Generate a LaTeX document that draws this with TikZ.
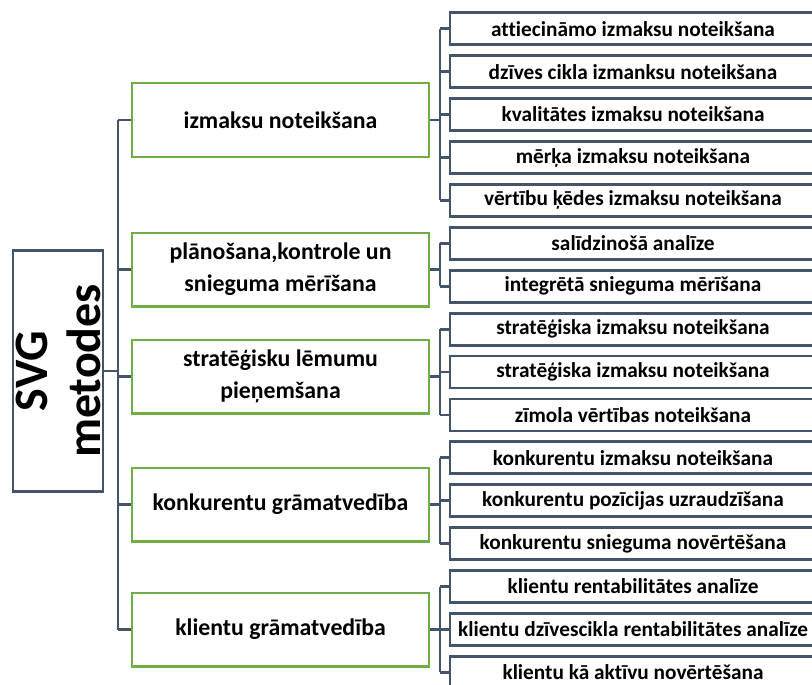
\documentclass[tikz,border=0pt]{standalone}
\usepackage{fontspec}
\setmainfont{Carlito}[Ligatures={NoCommon}]
\definecolor{slate}{HTML}{44546A}
\definecolor{leafgreen}{HTML}{70AD47}
\begin{document}
\begin{tikzpicture}[x=1pt,y=-1pt,
  conn/.style={draw=slate,line width=2.8pt},
  rootbox/.style={draw=slate,line width=2.8pt,fill=white,rotate=90,
    minimum width=241pt,minimum height=90pt,align=center,inner sep=0pt,
    font=\fontsize{48}{53}\selectfont\bfseries},
  midbox/.style={draw=leafgreen,line width=2.5pt,fill=white,
    minimum width=297pt,minimum height=73.5pt,align=center,inner sep=0pt,
    font=\fontsize{23.8}{31.7}\selectfont\bfseries},
  leafbox/.style={draw=slate,line width=2.8pt,fill=white,
    minimum width=366pt,minimum height=32pt,inner sep=0pt,
    font=\fontsize{21.3}{25}\selectfont\bfseries}]
\path[use as bounding box,clip] (0,0) rectangle (812,685);

% root
\node[rootbox] (root) at (58,371) {SVG\\metodes};

% second level
\node[midbox] (g1) at (280.5,120) {izmaksu noteikšana};
\node[midbox] (g2) at (280.5,269.5) {plānošana,kontrole un\\snieguma mērīšana};
\node[midbox] (g3) at (280.5,376.5) {stratēģisku lēmumu\\pieņemšana};
\node[midbox] (g4) at (280.5,504.5) {konkurentu grāmatvedība};
\node[midbox] (g5) at (280.5,629.5) {klientu grāmatvedība};

% third level
\foreach \n/\t [count=\k from 0] in {
  a1/attiecināmo izmaksu noteikšana,
  a2/dzīves cikla izmanksu noteikšana,
  a3/kvalitātes izmaksu noteikšana,
  a4/mērķa izmaksu noteikšana,
  a5/vērtību ķēdes izmaksu noteikšana,
  b1/salīdzinošā analīze,
  b2/integrētā snieguma mērīšana,
  c1/stratēģiska izmaksu noteikšana,
  c2/stratēģiska izmaksu noteikšana,
  c3/zīmola vērtības noteikšana,
  d1/konkurentu izmaksu noteikšana,
  d2/konkurentu pozīcijas uzraudzīšana,
  d3/konkurentu snieguma novērtēšana,
  e1/klientu rentabilitātes analīze,
  e2/klientu dzīvescikla rentabilitātes analīze,
  e3/klientu kā aktīvu novērtēšana}
  \node[leafbox] (\n) at (633,28.8+42.9*\k) {\t};

% trunks
\coordinate (tr) at (118,0);
\coordinate (sr) at (440,0);

\draw[conn] (root.south) -- (root.south -| tr);
\draw[conn] (tr |- g1.west) -- (tr |- g5.west);
\foreach \g in {g1,g2,g3,g4,g5}
  \draw[conn] (tr |- \g.west) -- (\g.west);

\draw[conn] (g1.east) -- (g1.east -| sr);
\draw[conn] (sr |- a1.west) -- (sr |- a5.west);
\foreach \s in {a1,a2,a3,a4,a5}
  \draw[conn] (sr |- \s.west) -- (\s.west);

\draw[conn] (g2.east) -- (g2.east -| sr);
\draw[conn] (sr |- b1.west) -- (sr |- b2.west);
\foreach \s in {b1,b2}
  \draw[conn] (sr |- \s.west) -- (\s.west);

\draw[conn] (g3.east) -- (g3.east -| sr);
\draw[conn] (sr |- c1.west) -- (sr |- c3.west);
\foreach \s in {c1,c2,c3}
  \draw[conn] (sr |- \s.west) -- (\s.west);

\draw[conn] (g4.east) -- (g4.east -| sr);
\draw[conn] (sr |- d1.west) -- (sr |- d3.west);
\foreach \s in {d1,d2,d3}
  \draw[conn] (sr |- \s.west) -- (\s.west);

\draw[conn] (g5.east) -- (g5.east -| sr);
\draw[conn] (sr |- e1.west) -- (sr |- e3.west);
\foreach \s in {e1,e2,e3}
  \draw[conn] (sr |- \s.west) -- (\s.west);
\end{tikzpicture}
\end{document}
